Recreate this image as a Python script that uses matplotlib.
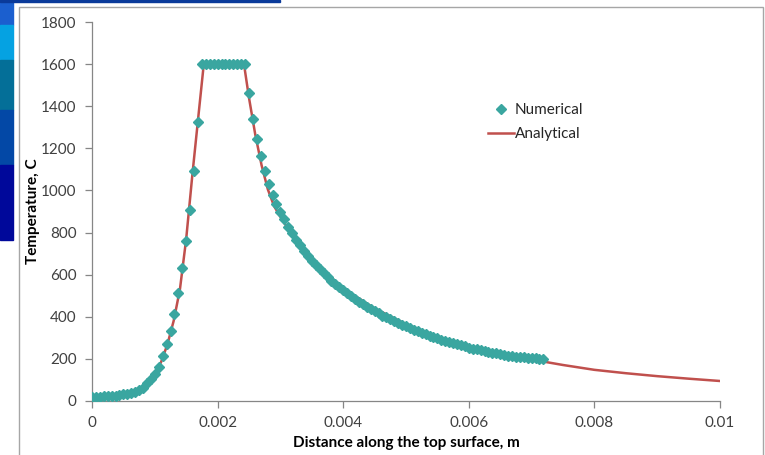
import matplotlib.pyplot as plt
from matplotlib.patches import Rectangle
from matplotlib.ticker import FuncFormatter

plt.rcParams['font.family'] = ['Lato', 'DejaVu Sans']

# numerical solution (x in m, T in C)
num_x = [0.0, 0.0000625, 0.000125, 0.0001875, 0.00025, 0.0003125, 0.000375, 0.0004375,
         0.0005, 0.0005625, 0.000625, 0.0006875, 0.00075, 0.0008125, 0.000875, 0.0009375,
         0.001, 0.0010625, 0.001125, 0.0011875, 0.00125, 0.0013125, 0.001375, 0.0014375,
         0.0015, 0.0015625, 0.001625, 0.0016875, 0.00175, 0.0018125, 0.001875, 0.0019375,
         0.002, 0.0020625, 0.002125, 0.0021875, 0.00225, 0.0023125, 0.002375, 0.0024375,
         0.0025, 0.0025625, 0.002625, 0.0026875, 0.00275, 0.0028125, 0.002875, 0.0029375,
         0.003, 0.0030625, 0.003125, 0.0031875, 0.00325, 0.0033125, 0.003375, 0.0034375,
         0.0035, 0.0035625, 0.003625, 0.0036875, 0.00375, 0.0038125, 0.003875, 0.0039375,
         0.004, 0.0040625, 0.004125, 0.0041875, 0.00425, 0.0043125, 0.004375, 0.0044375,
         0.0045, 0.0045625, 0.004625, 0.0046875, 0.00475, 0.0048125, 0.004875, 0.0049375,
         0.005, 0.0050625, 0.005125, 0.0051875, 0.00525, 0.0053125, 0.005375, 0.0054375,
         0.0055, 0.0055625, 0.005625, 0.0056875, 0.00575, 0.0058125, 0.005875, 0.0059375,
         0.006, 0.0060625, 0.006125, 0.0061875, 0.00625, 0.0063125, 0.006375, 0.0064375,
         0.0065, 0.0065625, 0.006625, 0.0066875, 0.00675, 0.0068125, 0.006875, 0.0069375,
         0.007, 0.0070625, 0.007125, 0.0071875]
num_t = [20, 20.5, 21, 22, 23, 24, 26, 28,
         31, 34, 38, 44, 52, 64, 84, 105,
         130, 160, 212, 269, 332, 415, 513, 632,
         760, 907, 1092, 1325, 1600, 1600, 1600, 1600,
         1600, 1600, 1600, 1600, 1600, 1600, 1600, 1600,
         1461, 1341, 1243, 1164, 1092, 1029, 978, 937,
         896, 863, 828, 796, 766, 740, 714, 690,
         667, 646, 626, 607, 589, 572, 556, 540,
         525, 511, 497, 484, 472, 460, 448, 437,
         426, 416, 406, 397, 388, 379, 370, 362,
         354, 346, 338, 331, 324, 317, 310, 304,
         298, 292, 286, 280, 274, 269, 264, 259,
         254, 249, 245, 241, 237, 233, 229, 226,
         222, 219, 216, 213, 211, 209, 207, 205,
         203, 202, 200, 199]

# analytical solution
ana_x = [0.0, 0.0002, 0.0004, 0.0005, 0.0006, 0.0007, 0.0008, 0.0009, 0.001, 0.0011,
         0.0012, 0.0013, 0.0014, 0.0015, 0.0016, 0.0017, 0.00178, 0.0021, 0.00242, 0.0025,
         0.0026, 0.0027, 0.0028, 0.0029, 0.003, 0.0032, 0.0035, 0.004, 0.0045, 0.005,
         0.0055, 0.006, 0.0065, 0.007, 0.0075, 0.008, 0.0085, 0.009, 0.0095, 0.01]
ana_t = [20, 22, 27, 31, 38, 48, 64, 88, 126, 185,
         268, 380, 530, 770, 1080, 1370, 1600, 1600, 1600, 1440,
         1265, 1120, 1005, 925, 875, 780, 670, 535, 440, 365,
         305, 258, 224, 197, 171, 148, 132, 118, 106, 95]

x_ticks = [0, 0.002, 0.004, 0.006, 0.008, 0.01]
y_ticks = [0, 200, 400, 600, 800, 1000, 1200, 1400, 1600, 1800]

W, H = 765, 455
fig = plt.figure(figsize=(W / 100, H / 100), dpi=100)

# slide background showing in the corner
bands = [(0, 25, '#1b5fcf'), (25, 60, '#05a2e2'), (60, 110, '#046f98'),
         (110, 165, '#0348a6'), (165, 240, '#00089a')]
for y0, y1, c in bands:
    fig.patches.append(Rectangle((0, 1 - y1 / H), 13 / W, (y1 - y0) / H,
                                 transform=fig.transFigure, color=c, zorder=-2))
fig.patches.append(Rectangle((0, 1 - 2 / H), 280 / W, 2 / H,
                             transform=fig.transFigure, color='#0a3a9a', zorder=-2))
# chart frame
fig.patches.append(Rectangle((19 / W, -0.01), 744 / W, 1 - 7 / H + 0.01,
                             transform=fig.transFigure, facecolor='white',
                             edgecolor='#a6a6a6', lw=1, zorder=-1))

ax = fig.add_axes([92 / W, 1 - 401 / H, 628 / W, 379 / H])
ax.set_zorder(1)
ax.patch.set_alpha(0)

ax.plot(ana_x, ana_t, color='#c0504d', lw=1.8, label='Analytical', zorder=2)
ax.plot(num_x, num_t, ls='none', marker='D', ms=5, color='#3aa6a0',
        mec='#3aa6a0', label='Numerical', zorder=3)

ax.set_xlim(0, 0.01)
ax.set_ylim(0, 1800)
ax.set_xticks(x_ticks)
ax.set_yticks(y_ticks)
ax.xaxis.set_major_formatter(FuncFormatter(lambda v, p: '%g' % v))

for s in ['top', 'right']:
    ax.spines[s].set_visible(False)
for s in ['left', 'bottom']:
    ax.spines[s].set_color('#868686')
    ax.spines[s].set_linewidth(0.9)
ax.tick_params(direction='out', length=5, width=0.9, color='#868686',
               labelcolor='#404040', labelsize=11)
ax.tick_params(axis='x', pad=6)
ax.tick_params(axis='y', pad=6)

ax.set_xlabel('Distance along the top surface, m', fontsize=11,
              fontweight='bold', labelpad=4)
ax.set_ylabel('Temperature, C', fontsize=11, fontweight='bold', va='center')
ax.yaxis.set_label_coords(-59 / 628, 0.5)

h, l = ax.get_legend_handles_labels()
ax.legend(h[::-1], l[::-1], loc='upper left', frameon=False,
          bbox_to_anchor=(488 / W, 1 - 103 / H), bbox_transform=fig.transFigure,
          fontsize=11, handlelength=1.7, handletextpad=0.05, labelspacing=0.65,
          borderaxespad=0, borderpad=0, labelcolor='#262626')

fig.savefig('out.png', dpi=100)
